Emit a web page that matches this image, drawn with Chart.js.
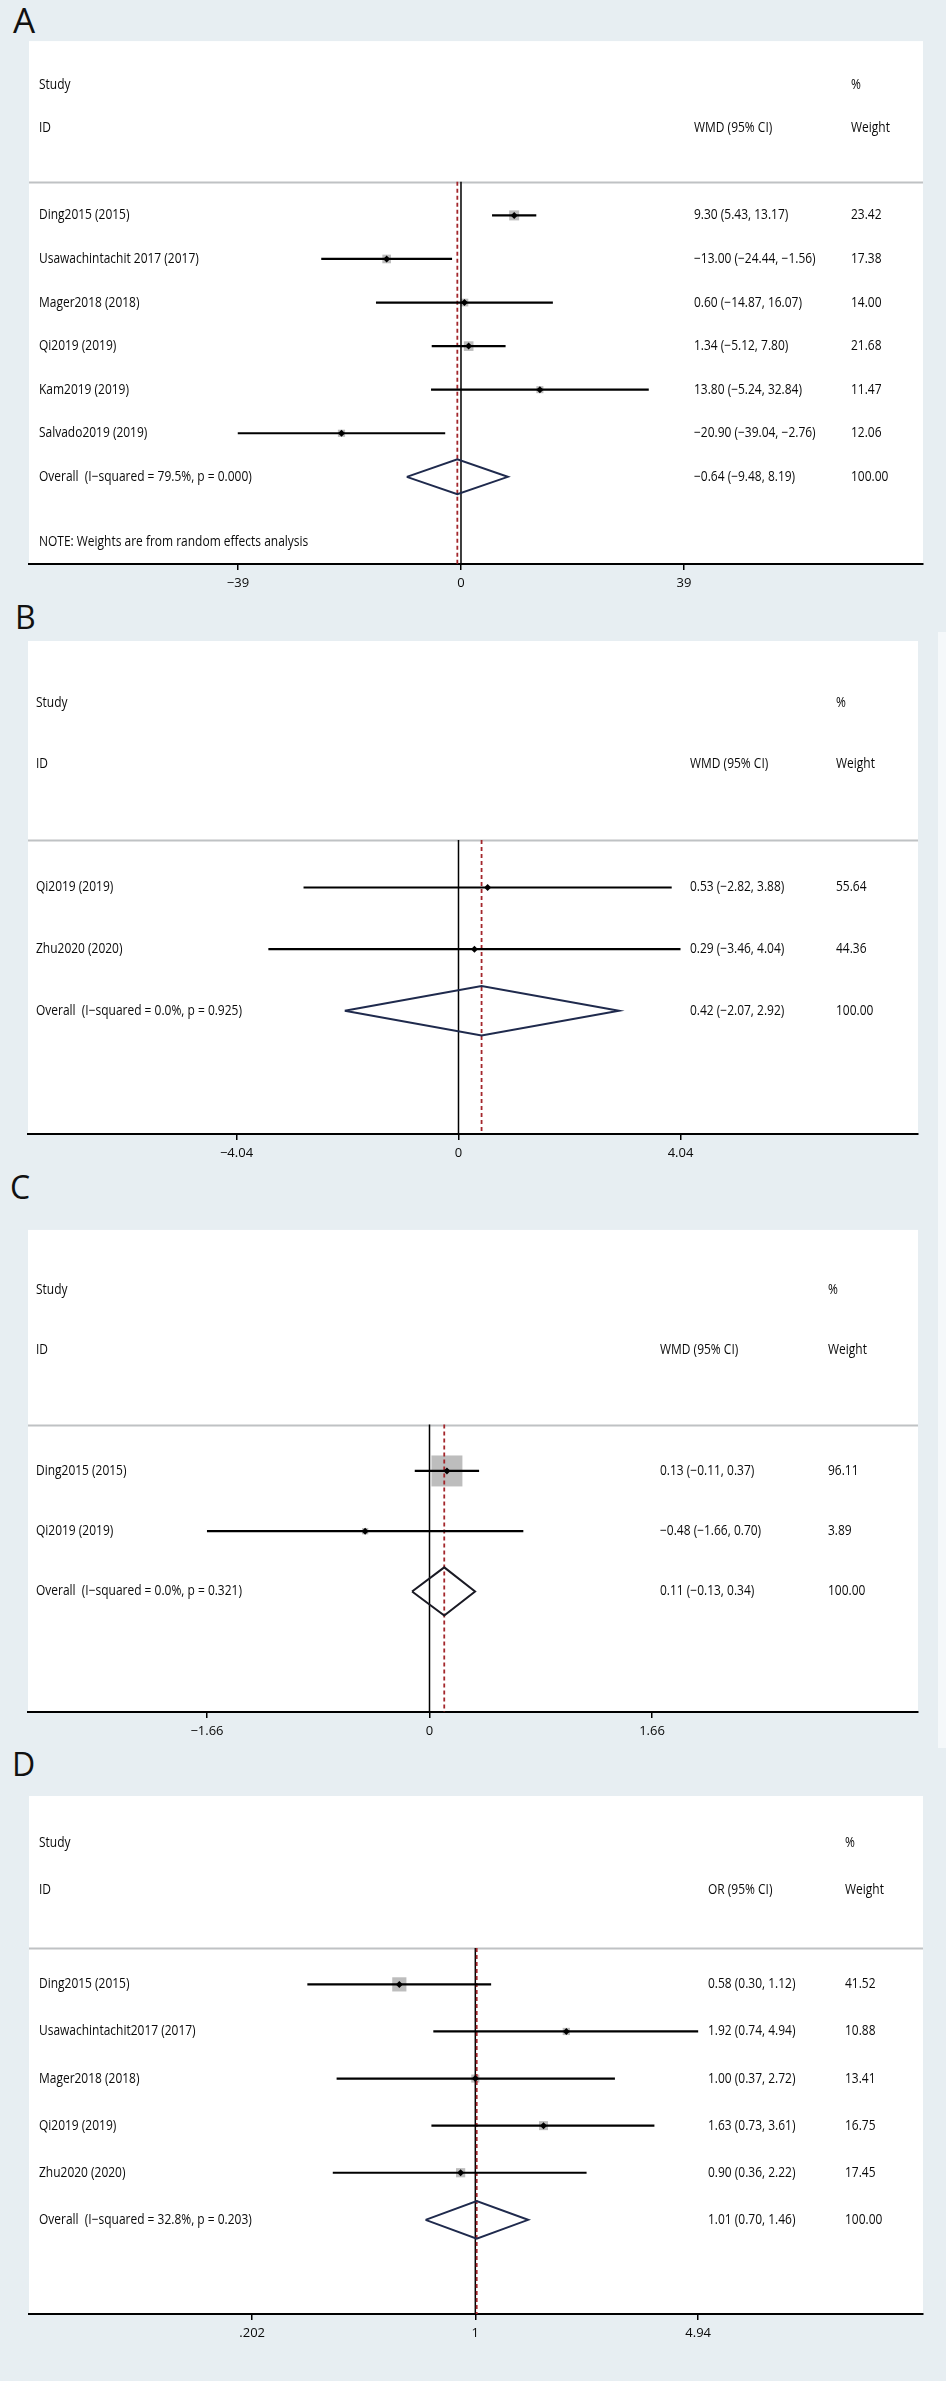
<!DOCTYPE html>
<html>
<head>
<meta charset="utf-8">
<script src="https://cdn.jsdelivr.net/npm/chart.js@4.4.1/dist/chart.umd.min.js"></script>
<style>
  body { margin: 0; background: #e7eef2; width: 946px; height: 2381px; position: relative; overflow: hidden; font-family: "Open Sans", sans-serif; }
  .panel-label { position: absolute; color: #111; }
  .chart-box { position: absolute; left: 0; width: 946px; }
  .strip { position: absolute; left: 938px; width: 8px; top: 632px; height: 1116px; background: #f5f8fa; }
</style>
</head>
<body>
<div class="strip"></div>
<div class="panel-label" style="left:13px;top:2px;font-size:35px;line-height:35px">A</div>
<div class="panel-label" style="left:15px;top:601px;font-size:32px;line-height:32px">B</div>
<div class="panel-label" style="left:10px;top:1171px;font-size:32px;line-height:32px">C</div>
<div class="panel-label" style="left:12px;top:1748px;font-size:32px;line-height:32px">D</div>

<div class="chart-box" style="top:34px"><canvas id="chartA" width="946" height="570"></canvas></div>
<div class="chart-box" style="top:637px"><canvas id="chartB" width="946" height="537"></canvas></div>
<div class="chart-box" style="top:1208px"><canvas id="chartC" width="946" height="544"></canvas></div>
<div class="chart-box" style="top:1786px"><canvas id="chartD" width="946" height="568"></canvas></div>

<script>
// ---- A: WMD ----
const studiesA = ['Ding2015 (2015)', 'Usawachintachit 2017 (2017)', 'Mager2018 (2018)', 'Qi2019 (2019)', 'Kam2019 (2019)', 'Salvado2019 (2019)'];
const estA = [9.30, -13.00, 0.60, 1.34, 13.80, -20.90];
const lowA = [5.43, -24.44, -14.87, -5.12, -5.24, -39.04];
const highA = [13.17, -1.56, 16.07, 7.80, 32.84, -2.76];
const weightA = [23.42, 17.38, 14.00, 21.68, 11.47, 12.06];
const overallA = [-0.64, -9.48, 8.19];
const overallLabelA = 'Overall  (I\u2212squared = 79.5%, p = 0.000)';
const ticksA = [-39, 0, 39];
const tickLabelsA = ['\u221239', '0', '39'];

// ---- B: WMD ----
const studiesB = ['Qi2019 (2019)', 'Zhu2020 (2020)'];
const estB = [0.53, 0.29];
const lowB = [-2.82, -3.46];
const highB = [3.88, 4.04];
const weightB = [55.64, 44.36];
const overallB = [0.42, -2.07, 2.92];
const overallLabelB = 'Overall  (I\u2212squared = 0.0%, p = 0.925)';
const ticksB = [-4.04, 0, 4.04];
const tickLabelsB = ['\u22124.04', '0', '4.04'];

// ---- C: WMD ----
const studiesC = ['Ding2015 (2015)', 'Qi2019 (2019)'];
const estC = [0.13, -0.48];
const lowC = [-0.11, -1.66];
const highC = [0.37, 0.70];
const weightC = [96.11, 3.89];
const overallC = [0.11, -0.13, 0.34];
const overallLabelC = 'Overall  (I\u2212squared = 0.0%, p = 0.321)';
const ticksC = [-1.66, 0, 1.66];
const tickLabelsC = ['\u22121.66', '0', '1.66'];

// ---- D: OR ----
const studiesD = ['Ding2015 (2015)', 'Usawachintachit2017 (2017)', 'Mager2018 (2018)', 'Qi2019 (2019)', 'Zhu2020 (2020)'];
const estD = [0.58, 1.92, 1.00, 1.63, 0.90];
const lowD = [0.30, 0.74, 0.37, 0.73, 0.36];
const highD = [1.12, 4.94, 2.72, 3.61, 2.22];
const weightD = [41.52, 10.88, 13.41, 16.75, 17.45];
const overallD = [1.01, 0.70, 1.46];
const overallLabelD = 'Overall  (I\u2212squared = 32.8%, p = 0.203)';
const ticksD = [0.202, 1, 4.94];
const tickLabelsD = ['.202', '1', '4.94'];

const FONT = '"Open Sans", "Noto Sans", sans-serif';
const SX = 0.855; // squeeze text horizontally, stata font is narrow
const HEADER_ROW = -0.77;

const fmt = (v) => v.toFixed(2).replace('-', '\u2212');

const panels = [
    { id: 'chartA', studies: studiesA, est: estA, low: lowA, high: highA, weight: weightA, overall: overallA,
      overallLabel: overallLabelA, ticks: ticksA, tickLabels: tickLabelsA, effect: 'WMD (95% CI)', nullValue: 0,
      xMin: -75.55, xMax: 80.8, log: false, pad: [29, 23], boxK: 2.07, note: true,
      cols: [39, 694, 851], diamond: '#1f2a4d' },
    { id: 'chartB', studies: studiesB, est: estB, low: lowB, high: highB, weight: weightB, overall: overallB,
      overallLabel: overallLabelB, ticks: ticksB, tickLabels: tickLabelsB, effect: 'WMD (95% CI)', nullValue: 0,
      xMin: -7.834, xMax: 8.362, log: false, pad: [28, 28], boxK: 0, note: false,
      cols: [36, 690, 836], diamond: '#1f2a4d' },
    { id: 'chartC', studies: studiesC, est: estC, low: lowC, high: highC, weight: weightC, overall: overallC,
      overallLabel: overallLabelC, ticks: ticksC, tickLabels: tickLabelsC, effect: 'WMD (95% CI)', nullValue: 0,
      xMin: -2.995, xMax: 3.644, log: false, pad: [28, 28], boxK: 3.16, note: false,
      cols: [36, 660, 828], diamond: '#1a1a24' },
    { id: 'chartD', studies: studiesD, est: estD, low: lowD, high: highD, weight: weightD, overall: overallD,
      overallLabel: overallLabelD, ticks: ticksD, tickLabels: tickLabelsD, effect: 'OR (95% CI)', nullValue: 1,
      xMin: 0.0408, xMax: 24.75, log: true, pad: [29, 23], boxK: 2.2, note: false,
      cols: [39, 708, 845], diamond: '#1f2a4d' }
];

const drawText = (ctx, str, x, y) => {
    ctx.save();
    ctx.translate(x, y);
    ctx.scale(SX, 1);
    ctx.fillText(str, 0, 0);
    ctx.restore();
};

const forestPlugin = (p) => ({
    id: 'forestText',
    beforeDraw(chart) {
        const { ctx, chartArea } = chart;
        ctx.save();
        ctx.fillStyle = '#fff';
        ctx.fillRect(chartArea.left, chartArea.top, chartArea.right - chartArea.left, chartArea.bottom - chartArea.top);
        ctx.restore();
    },
    beforeDatasetsDraw(chart) {
        const { ctx, chartArea } = chart;
        const y = Math.round(chart.scales.y.getPixelForValue(HEADER_ROW)) + 0.5;
        ctx.save();
        ctx.strokeStyle = '#bfc2c4';
        ctx.lineWidth = 2;
        ctx.beginPath();
        ctx.moveTo(chartArea.left, y);
        ctx.lineTo(chartArea.right, y);
        ctx.stroke();
        ctx.restore();
    },
    afterDatasetsDraw(chart) {
        const { ctx } = chart;
        const ys = chart.scales.y;
        const [cx0, cx1, cx2] = p.cols;
        const n = p.studies.length;
        ctx.save();
        ctx.fillStyle = '#0a0a0a';
        ctx.font = '14px ' + FONT;
        ctx.textBaseline = 'middle';
        ctx.textAlign = 'left';

        drawText(ctx, 'Study', cx0, ys.getPixelForValue(-3));
        drawText(ctx, '%', cx2, ys.getPixelForValue(-3));
        drawText(ctx, 'ID', cx0, ys.getPixelForValue(-2));
        drawText(ctx, p.effect, cx1, ys.getPixelForValue(-2));
        drawText(ctx, 'Weight', cx2, ys.getPixelForValue(-2));

        p.studies.forEach((s, i) => {
            const y = ys.getPixelForValue(i);
            drawText(ctx, s, cx0, y);
            drawText(ctx, `${fmt(p.est[i])} (${fmt(p.low[i])}, ${fmt(p.high[i])})`, cx1, y);
            drawText(ctx, p.weight[i].toFixed(2), cx2, y);
        });

        const yo = ys.getPixelForValue(n);
        const [oe, ol, oh] = p.overall;
        drawText(ctx, p.overallLabel, cx0, yo);
        drawText(ctx, `${fmt(oe)} (${fmt(ol)}, ${fmt(oh)})`, cx1, yo);
        drawText(ctx, '100.00', cx2, yo);

        if (p.note) {
            drawText(ctx, 'NOTE: Weights are from random effects analysis', cx0, ys.getPixelForValue(n + 1.5));
        }
        ctx.restore();
    }
});

const buildDatasets = (p) => {
    const n = p.studies.length;
    const [oe, ol, oh] = p.overall;
    const ds = [];

    // grey weight boxes (area ~ weight)
    ds.push({
        data: p.est.map((v, i) => ({ x: v, y: i })),
        pointStyle: 'rect',
        backgroundColor: '#bdbdbd',
        borderWidth: 0,
        pointRadius: (c) => p.boxK * Math.sqrt(p.weight[c.dataIndex]) / Math.SQRT2,
        order: 6
    });

    // no-effect line and overall dashed line
    ds.push({
        data: [{ x: p.nullValue, y: HEADER_ROW }, { x: p.nullValue, y: n + 2 }],
        showLine: true, borderColor: '#000', borderWidth: 1.5, pointRadius: 0, order: 5
    });
    ds.push({
        data: [{ x: oe, y: HEADER_ROW }, { x: oe, y: n + 2 }],
        showLine: true, borderColor: '#a3262b', borderWidth: 1.8, borderDash: [4, 3], pointRadius: 0, order: 4
    });

    // confidence intervals
    p.studies.forEach((s, i) => {
        ds.push({
            data: [{ x: p.low[i], y: i }, { x: p.high[i], y: i }],
            showLine: true, borderColor: '#000', borderWidth: 2.2, pointRadius: 0, order: 3
        });
    });

    // point estimates
    ds.push({
        data: p.est.map((v, i) => ({ x: v, y: i })),
        pointStyle: 'rectRot', backgroundColor: '#000', borderWidth: 0, pointRadius: 3.5, order: 2
    });

    // pooled diamond
    ds.push({
        data: [{ x: ol, y: n }, { x: oe, y: n - 0.4 }, { x: oh, y: n }, { x: oe, y: n + 0.4 }, { x: ol, y: n }],
        showLine: true, borderColor: p.diamond, borderWidth: 2, pointRadius: 0, fill: false, order: 1
    });
    return ds;
};

const makeChart = (p) => {
    const ctx = document.getElementById(p.id).getContext('2d');
    const n = p.studies.length;
    return new Chart(ctx, {
        type: 'scatter',
        data: { datasets: buildDatasets(p) },
        options: {
            responsive: false,
            animation: false,
            events: [],
            layout: { padding: { left: p.pad[0], right: p.pad[1], top: 0, bottom: 7 } },
            plugins: { legend: { display: false }, tooltip: { enabled: false } },
            scales: {
                x: {
                    type: p.log ? 'logarithmic' : 'linear',
                    min: p.xMin,
                    max: p.xMax,
                    bounds: 'data',
                    afterBuildTicks: (scale) => { scale.ticks = p.ticks.map(v => ({ value: v })); },
                    ticks: {
                        autoSkip: false,
                        maxRotation: 0,
                        padding: 7,
                        color: '#0a0a0a',
                        font: { family: FONT, size: 13, lineHeight: 1 },
                        callback: (v, i) => p.tickLabels[i]
                    },
                    grid: { drawOnChartArea: false, drawTicks: true, tickLength: 6, color: '#000', lineWidth: 1.5 },
                    border: { display: true, color: '#000', width: 2 }
                },
                y: {
                    type: 'linear',
                    display: false,
                    min: -4,
                    max: n + 2,
                    bounds: 'data',
                    reverse: true
                }
            }
        },
        plugins: [forestPlugin(p)]
    });
};

document.addEventListener('DOMContentLoaded', () => {
    panels.forEach(makeChart);
});
</script>
</body>
</html>
